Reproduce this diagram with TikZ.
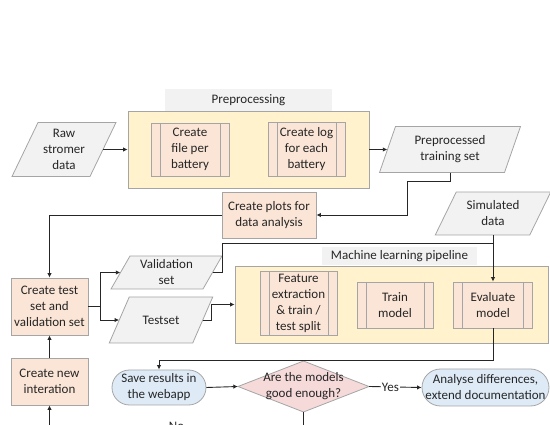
\documentclass[tikz,border=0pt]{standalone}
\usepackage{fontspec}
\setmainfont{Carlito}
\usetikzlibrary{arrows.meta,calc}
\definecolor{peach}{HTML}{FBE5D6}
\definecolor{yellowc}{HTML}{FFF2CC}
\definecolor{hdrgray}{HTML}{F2F2F2}
\definecolor{pargray}{HTML}{F2F2F2}
\definecolor{bordergray}{HTML}{A5A5A5}
\definecolor{bluec}{HTML}{DEEBF7}
\definecolor{pinkc}{HTML}{F6DADA}
\definecolor{linec}{HTML}{262626}
\definecolor{txt}{HTML}{262626}
\newcommand\parnode[7]{%
  \path[parfill] ({#2-#4/2-#6/2},{#3+#5/2}) -- ({#2+#4/2-#6/2},{#3+#5/2}) -- ({#2+#4/2+#6/2},{#3-#5/2}) -- ({#2-#4/2+#6/2},{#3-#5/2}) -- cycle;
  \node[partext, minimum width=#4, minimum height=#5] (#1) at (#2,#3) {#7};}
\begin{document}
\begin{tikzpicture}[x=1pt,y=-1pt,
  font=\fontsize{13}{16}\selectfont,
  box/.style={draw=bordergray, line width=0.8pt, inner sep=0pt, align=center, text=txt},
  proc/.style={box, fill=peach},
  pp/.style={proc, path picture={
     \draw[bordergray, line width=0.8pt] ([xshift=9pt]path picture bounding box.north west) -- ([xshift=9pt]path picture bounding box.south west);
     \draw[bordergray, line width=0.8pt] ([xshift=-9pt]path picture bounding box.north east) -- ([xshift=-9pt]path picture bounding box.south east);}},
  cont/.style={draw=bordergray, fill=yellowc, line width=0.8pt, inner sep=0pt},
  hdr/.style={fill=hdrgray, inner sep=0pt, text=txt},
  parfill/.style={draw=bordergray, fill=pargray, line width=0.8pt},
  partext/.style={inner sep=0pt, align=center, text=txt},
  stad/.style={box, fill=bluec},
  ln/.style={draw=linec, line width=0.9pt},
  arr/.style={ln, -{Latex[length=4.5pt,width=4.5pt]}},
  lbl/.style={fill=white, inner sep=1pt, text=txt}]
\useasboundingbox (0,0) rectangle (550,425);
\clip (0,0) rectangle (550,425);
% containers
\node[cont, minimum width=241, minimum height=77] (pre) at (248.5,149.5) {};
\node[hdr, minimum width=167, minimum height=22] (prehdr) at (248.5,100) {Preprocessing};
\node[cont, minimum width=313, minimum height=77] (ml) at (391.5,304.5) {};
\node[hdr, minimum width=155, minimum height=18] (mlhdr) at (399.5,256) {Machine learning pipeline};
% process boxes
\node[pp, minimum width=78, minimum height=53] (file) at (190,149.5) {Create\\file per\\battery};
\node[pp, minimum width=77, minimum height=54] (log) at (306.5,149.5) {Create log\\for each\\battery};
\node[pp, minimum width=77, minimum height=64] (feat) at (298.5,303) {Feature\\extraction\\\& train /\\test split};
\node[pp, minimum width=76, minimum height=46] (train) at (395,305) {Train\\model};
\node[pp, minimum width=79, minimum height=46] (eval) at (493,305) {Evaluate\\model};
\node[proc, minimum width=94, minimum height=46] (plots) at (269,215) {Create plots for\\data analysis};
\node[proc, minimum width=77, minimum height=57] (tc) at (49.5,306.5) {Create test\\set and\\validation set};
\node[proc, minimum width=77, minimum height=47] (newit) at (49.5,381.5) {Create new\\interation};
% parallelograms
\parnode{raw}{64}{149.5}{78}{54}{26}{Raw\\stromer\\data}
\parnode{prep}{450}{149.5}{125}{46}{16}{Preprocessed\\training set}
\parnode{sim}{493}{213.5}{94.5}{43}{21}{Simulated\\data}
\parnode{val}{166.5}{272.5}{92}{33}{19}{Validation\\set}
\parnode{test}{161}{320}{83.5}{46}{20}{Testset}
% stadiums and decision
\node[stad, rounded corners=17.5pt, minimum width=94, minimum height=35] (save) at (159,387.5) {Save results in\\the webapp};
\node[stad, rounded corners=18.5pt, minimum width=127, minimum height=37] (ana) at (485.5,387.5) {Analyse differences,\\extend documentation};
\path[draw=bordergray, fill=pinkc, line width=0.8pt] (238,386.5) -- (303.5,361) -- (369,386.5) -- (303.5,412) -- cycle;
\node[partext, minimum width=131, minimum height=51] (dia) at (303.5,386.5) {Are the models\\good enough?};
% connectors
\draw[arr] (raw.east) -- (pre.west);
\draw[arr] (pre.east) -- (prep.west);
\draw[arr] (prep.south) -- ++(0,9) -| ($(plots.east)+(91,0)$) -- (plots.east);
\draw[arr] (plots.west) -| (tc.north);
\draw[ln] (tc.east) -- ++(12,0) coordinate (fork);
\draw[arr] (fork) |- (val.west);
\draw[arr] (fork) |- (test.west);
\coordinate (j) at (493,243);
\draw[ln] (val.east) -- ++(9.5,0) |- (j);
\draw[arr] (sim.south) -- (eval.north);
\draw[arr] (test.east) -- ++(8,0) |- (ml.west);
\draw[arr] (eval.south) -- ++(0,32) -| (save.north);
\draw[arr] (save.east) -- (dia.west);
\draw[arr] (dia.east) -- node[lbl, xshift=-5pt]{Yes} (ana.west);
\draw[arr] (dia.south) -- ++(0,16) -| node[pos=0.25, lbl, yshift=2pt]{No} (newit.south);
\draw[arr] (newit.north) -- (tc.south);
\end{tikzpicture}
\end{document}
